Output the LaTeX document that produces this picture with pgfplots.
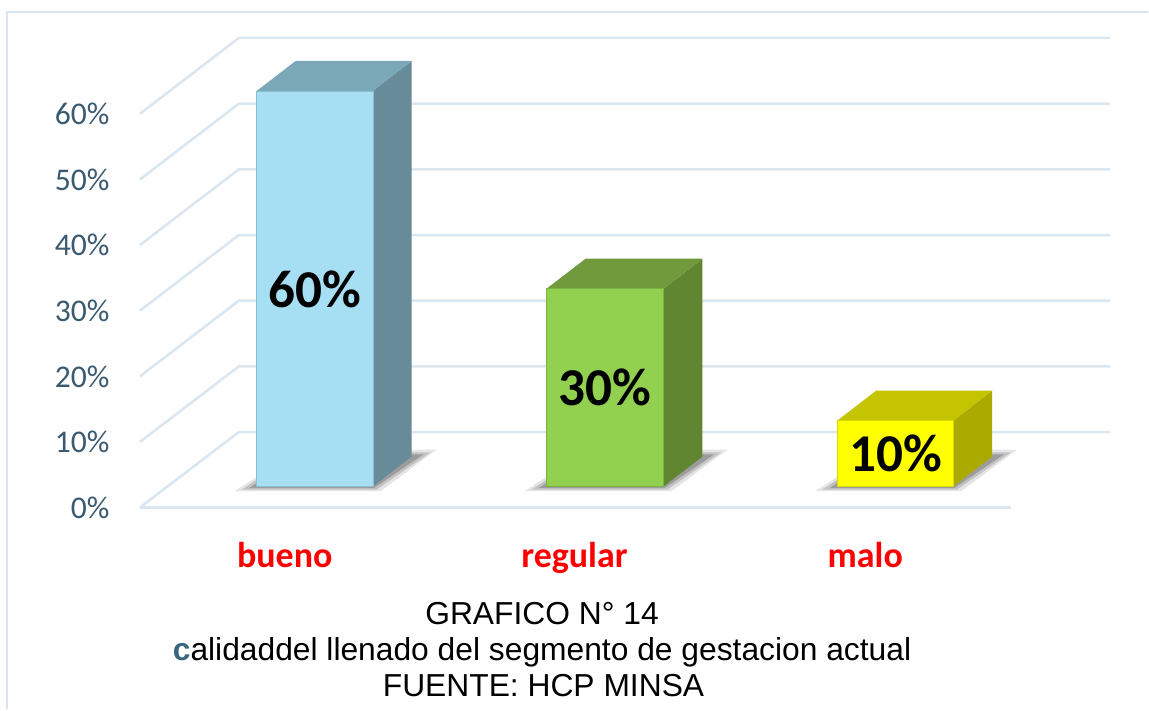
\documentclass[border=0pt]{standalone}
\usepackage{fontspec}
\setmainfont{Carlito}
\newfontfamily\arialfont{Liberation Sans}
\usepackage{pgfplots}
\pgfplotsset{compat=1.18}
\definecolor{gridc}{RGB}{218,231,240}
\definecolor{framec}{RGB}{214,228,238}
\definecolor{tickc}{RGB}{58,90,114}
\definecolor{capc}{RGB}{59,102,130}
\definecolor{bAfront}{RGB}{166,223,244}
\definecolor{bAtop}{RGB}{122,168,183}
\definecolor{bAside}{RGB}{103,139,153}
\definecolor{bBfront}{RGB}{146,208,80}
\definecolor{bBtop}{RGB}{112,154,60}
\definecolor{bBside}{RGB}{96,134,50}
\definecolor{bCfront}{RGB}{255,255,0}
\definecolor{bCtop}{RGB}{196,196,0}
\definecolor{bCside}{RGB}{170,170,0}
\begin{document}
\begin{tikzpicture}
\begin{axis}[
  scale only axis, width=574.5pt, height=355pt,
  xmin=0, xmax=1149, ymin=-33.788, ymax=73.788,
  hide axis, clip=false,
  every axis plot/.append style={forget plot}]
\addplot[draw=none] coordinates {(0,-33.788) (1149,73.788)};
% frame
\addplot[framec, line width=1pt] coordinates {(7,-33.788) (7,71.97) (1149,71.97)};
% gridlines (front edge -> back wall)
\addplot[gridc, line width=1.3pt] coordinates {(140,-3.18) (239,8.26) (1111,8.26)};
\addplot[gridc, line width=1.3pt] coordinates {(140,-3.18) (1012,-3.18)};
\addplot[gridc, line width=1.3pt] coordinates {(140,6.77) (239,18.22) (1111,18.22)};
\addplot[gridc, line width=1.3pt] coordinates {(140,16.71) (239,28.18) (1111,28.18)};
\addplot[gridc, line width=1.3pt] coordinates {(140,26.67) (239,38.14) (1111,38.14)};
\addplot[gridc, line width=1.3pt] coordinates {(140,36.62) (239,48.11) (1111,48.11)};
\addplot[gridc, line width=1.3pt] coordinates {(140,46.56) (239,58.07) (1111,58.07)};
\addplot[gridc, line width=1.3pt] coordinates {(140,56.52) (239,68.03) (1111,68.03)};
% shadows
\addplot[fill=black, fill opacity=0.10, draw=none] coordinates {(235,-0.7)(381,-0.7)(437,5.6)(299,5.6)};
\addplot[fill=black, fill opacity=0.15, draw=none] coordinates {(242,-0.45)(377,-0.45)(431,5.2)(299,5.2)};
\addplot[fill=black, fill opacity=0.20, draw=none] coordinates {(249,-0.25)(374,-0.25)(424,4.9)(299,4.9)};
\addplot[fill=black, fill opacity=0.10, draw=none] coordinates {(525,-0.7)(672,-0.7)(728,5.6)(589,5.6)};
\addplot[fill=black, fill opacity=0.15, draw=none] coordinates {(532,-0.45)(668,-0.45)(722,5.2)(589,5.2)};
\addplot[fill=black, fill opacity=0.20, draw=none] coordinates {(539,-0.25)(665,-0.25)(715,4.9)(589,4.9)};
\addplot[fill=black, fill opacity=0.10, draw=none] coordinates {(816,-0.7)(962,-0.7)(1018,5.6)(880,5.6)};
\addplot[fill=black, fill opacity=0.15, draw=none] coordinates {(823,-0.45)(958,-0.45)(1012,5.2)(880,5.2)};
\addplot[fill=black, fill opacity=0.20, draw=none] coordinates {(830,-0.25)(955,-0.25)(1005,4.9)(880,4.9)};
% bar bueno (60)
\addplot[fill=bAside, draw=none] coordinates {(373,0)(373,60)(412,64.55)(412,4.55)};
\addplot[fill=bAtop, draw=none] coordinates {(257,60)(296,64.55)(412,64.55)(373,60)};
\addplot[ybar, bar shift=0pt, bar width=116.5, fill=bAfront, draw=bAfront!85!black, line width=0.3pt] coordinates {(315,60)};
% bar regular (30)
\addplot[fill=bBside, draw=none] coordinates {(664,0)(664,30)(703,34.55)(703,4.55)};
\addplot[fill=bBtop, draw=none] coordinates {(547,30)(586,34.55)(703,34.55)(664,30)};
\addplot[ybar, bar shift=0pt, bar width=116.5, fill=bBfront, draw=bBfront!85!black, line width=0.3pt] coordinates {(605.5,30)};
% bar malo (10)
\addplot[fill=bCside, draw=none] coordinates {(954,0)(954,10)(993,14.55)(993,4.55)};
\addplot[fill=bCtop, draw=none] coordinates {(838,10)(877,14.55)(993,14.55)(954,10)};
\addplot[ybar, bar shift=0pt, bar width=116.5, fill=bCfront, draw=bCfront!85!black, line width=0.3pt] coordinates {(896,10)};
% tick labels
\begin{scope}[every node/.style={anchor=east, inner sep=0pt, text=tickc, font=\fontsize{15.8}{18}\selectfont}]
\node at (axis cs:110,-3.18) {0\%};
\node at (axis cs:110,6.77) {10\%};
\node at (axis cs:110,16.71) {20\%};
\node at (axis cs:110,26.67) {30\%};
\node at (axis cs:110,36.62) {40\%};
\node at (axis cs:110,46.56) {50\%};
\node at (axis cs:110,56.52) {60\%};
\end{scope}
% value labels
\begin{scope}[every node/.style={anchor=base, inner sep=0pt, font=\fontsize{26.6}{30}\selectfont\bfseries}]
\node at (axis cs:315,27.12) {60\%};
\node at (axis cs:605.5,12.27) {30\%};
\node at (axis cs:897,2.27) {10\%};
\end{scope}
% category labels
\begin{scope}[every node/.style={anchor=base, inner sep=0pt, text=red, font=\fontsize{18}{21}\selectfont\bfseries}]
\node at (axis cs:285,-12.27) {bueno};
\node at (axis cs:575,-12.27) {regular};
\node at (axis cs:866,-12.27) {malo};
\end{scope}
% caption
\begin{scope}[every node/.style={anchor=base, inner sep=0pt, font=\arialfont\fontsize{15.9}{18}\selectfont}]
\node at (axis cs:542.5,-20.91) {GRAFICO N° 14};
\node at (axis cs:542.5,-26.36) {{\color{capc}\bfseries c}alidaddel llenado del segmento de gestacion actual};
\node at (axis cs:544,-31.82) {FUENTE: HCP MINSA};
\end{scope}
\end{axis}
\end{tikzpicture}
\end{document}
